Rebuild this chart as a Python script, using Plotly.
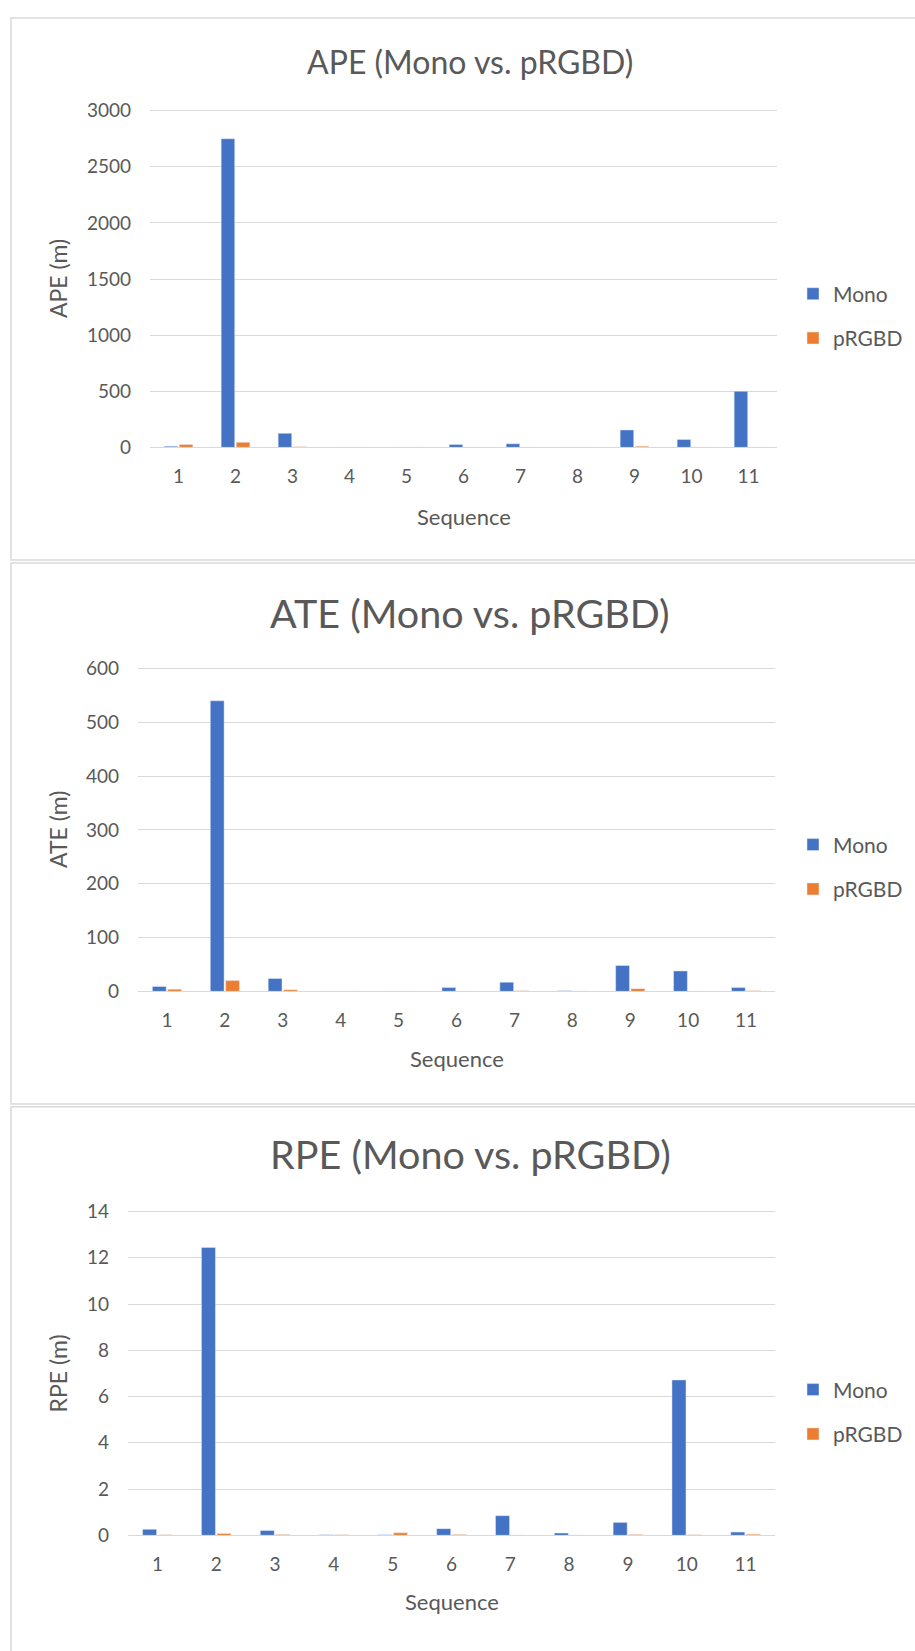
import plotly.graph_objects as go

W, H = 915, 1651

sequences = ["1", "2", "3", "4", "5", "6", "7", "8", "9", "10", "11"]
series_names = ["Mono", "pRGBD"]

ape_mono = [10, 2750, 125, 0.5, 0.5, 25, 32, 0.5, 155, 70, 500]
ape_prgbd = [25, 45, 5, 0.3, 0.3, 0.5, 0.5, 0.3, 10, 0.5, 0.5]

ate_mono = [9, 540, 24, 0.2, 0.2, 7, 17, 1, 48, 38, 7]
ate_prgbd = [4, 20, 3, 0.2, 0.2, 0.5, 1, 0.5, 5, 0.5, 1]

rpe_mono = [0.26, 12.45, 0.21, 0.03, 0.03, 0.29, 0.85, 0.1, 0.56, 6.72, 0.14]
rpe_prgbd = [0.03, 0.08, 0.04, 0.03, 0.11, 0.04, 0.01, 0.01, 0.04, 0.03, 0.05]

titles = ["APE (Mono vs. pRGBD)", "ATE (Mono vs. pRGBD)", "RPE (Mono vs. pRGBD)"]
ytitles = ["APE (m)", "ATE (m)", "RPE (m)"]
xtitle = "Sequence"
ymaxes = [3000, 600, 14]
ydticks = [500, 100, 2]

COL_MONO = "#4472C4"
COL_PRGBD = "#ED7D31"
TXT = "#595959"
GRID = "#d9d9d9"
FONT = "Lato"

# pixel layout per panel (style only)
panels = [
    dict(l=150, r=777, t=102, b=443, ty=52, ts=32, ly=310, pt=8, pb=557, xt=513),
    dict(l=138, r=775, t=667, b=994, ty=610, ts=39.5, ly=868, pt=560, pb=1108, xt=1062),
    dict(l=128, r=775, t=1217, b=1545, ty=1158, ts=39.5, ly=1420, pt=1111, pb=1700, xt=1612),
]

def px(x):
    return x / W

def py(y):
    return 1 - y / H

data_sets = [(ape_mono, ape_prgbd), (ate_mono, ate_prgbd), (rpe_mono, rpe_prgbd)]

fig = go.Figure()
layout = dict(
    width=W, height=H,
    margin=dict(l=0, r=0, t=0, b=0),
    paper_bgcolor="white", plot_bgcolor="white",
    font=dict(family=FONT, color=TXT),
    barmode="group", bargap=0.47, bargroupgap=0.1,
    showlegend=True,
)
annotations = []
shapes = []
EXTRA = 2.0  # px of headroom so the top gridline is not clipped

for i, (p, (mono, prgbd)) in enumerate(zip(panels, data_sets)):
    n = "" if i == 0 else str(i + 1)
    xa = "x" + n
    ya = "y" + n
    leg = "legend" + n
    fig.add_trace(go.Bar(x=sequences, y=mono, name=series_names[0], marker_color=COL_MONO,
                         xaxis=xa, yaxis=ya, legend=leg, legendgroup="m" + str(i)))
    fig.add_trace(go.Bar(x=sequences, y=prgbd, name=series_names[1], marker_color=COL_PRGBD,
                         xaxis=xa, yaxis=ya, legend=leg, legendgroup="p" + str(i)))
    ph = p["b"] - p["t"]
    ytop = ymaxes[i] * (1 + EXTRA / ph)
    layout["xaxis" + n] = dict(
        domain=[px(p["l"]), px(p["r"])], anchor=ya,
        showline=True, linecolor=GRID, linewidth=1, showgrid=False, ticks="",
        tickfont=dict(size=19, color=TXT, family=FONT), ticklabelstandoff=12,
        fixedrange=True,
    )
    layout["yaxis" + n] = dict(
        domain=[py(p["b"]), py(p["t"] - EXTRA)], anchor=xa,
        range=[0, ytop], dtick=ydticks[i], tick0=0,
        showgrid=True, gridcolor=GRID, gridwidth=1, zeroline=False, showline=False,
        tickfont=dict(size=19, color=TXT, family=FONT), ticklabelstandoff=18,
        fixedrange=True,
    )
    layout[leg] = dict(
        x=px(793), xanchor="left", y=py(p["ly"]), yanchor="middle",
        font=dict(size=21, color=TXT, family=FONT), bgcolor="rgba(0,0,0,0)",
        traceorder="grouped", tracegroupgap=14, itemwidth=30,
    )
    cx = (p["l"] + p["r"]) / 2
    annotations.append(dict(text=titles[i], x=px(470), y=py(p["ty"]), xref="paper", yref="paper",
                            showarrow=False, xanchor="center", yanchor="middle",
                            font=dict(size=p["ts"], color=TXT, family=FONT)))
    annotations.append(dict(text=ytitles[i], x=px(58), y=py((p["t"] + p["b"]) / 2), xref="paper", yref="paper",
                            showarrow=False, xanchor="center", yanchor="middle", textangle=-90,
                            font=dict(size=23, color=TXT, family=FONT)))
    annotations.append(dict(text=xtitle, x=px(cx), y=py(p["xt"]), xref="paper", yref="paper",
                            showarrow=False, xanchor="center", yanchor="middle",
                            font=dict(size=22, color=TXT, family=FONT)))
    shapes.append(dict(type="rect", xref="paper", yref="paper",
                       x0=px(11), x1=px(930), y0=py(p["pb"]), y1=py(p["pt"]),
                       line=dict(color=GRID, width=1.5), fillcolor="rgba(0,0,0,0)", layer="below"))

layout["annotations"] = annotations
layout["shapes"] = shapes
fig.update_layout(**layout)
fig.write_html("out.html")
